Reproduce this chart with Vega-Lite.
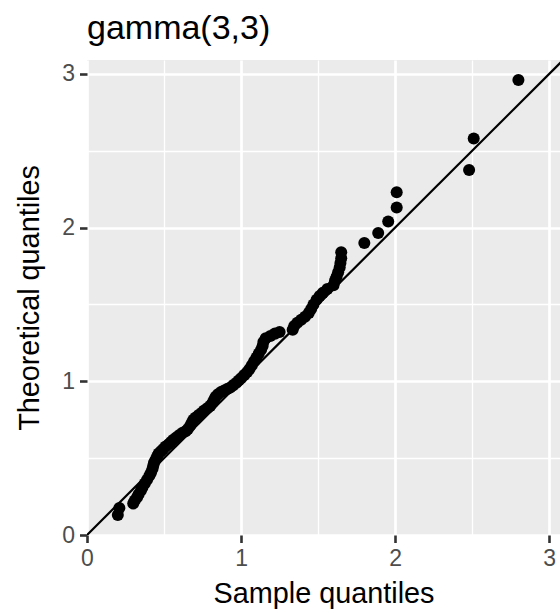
{
  "$schema": "https://vega.github.io/schema/vega-lite/v6.json",
  "width": 473,
  "height": 475,
  "autosize": {"type": "none"},
  "padding": {"left": 87, "top": 60, "right": 0, "bottom": 78},
  "background": "white",
  "config": {
    "view": {"fill": "#EBEBEB", "stroke": null},
    "font": "Liberation Sans"
  },
  "title": {
    "text": "gamma(3,3)",
    "anchor": "start",
    "frame": "group",
    "offset": 14,
    "fontSize": 34,
    "fontWeight": "normal",
    "font": "Liberation Sans",
    "color": "#000000"
  },
  "datasets": {
    "pts": [
      {"sample": 2.80, "theoretical": 2.96}, {"sample": 2.51, "theoretical": 2.58}, {"sample": 2.48, "theoretical": 2.375},
      {"sample": 2.01, "theoretical": 2.23}, {"sample": 2.01, "theoretical": 2.13}, {"sample": 1.955, "theoretical": 2.04},
      {"sample": 1.89, "theoretical": 1.965}, {"sample": 1.80, "theoretical": 1.90}, {"sample": 1.65, "theoretical": 1.84},
      {"sample": 1.65, "theoretical": 1.80}, {"sample": 1.645, "theoretical": 1.77}, {"sample": 1.64, "theoretical": 1.74},
      {"sample": 1.63, "theoretical": 1.71}, {"sample": 1.62, "theoretical": 1.68}, {"sample": 1.61, "theoretical": 1.655},
      {"sample": 1.60, "theoretical": 1.625}, {"sample": 1.56, "theoretical": 1.60}, {"sample": 1.53, "theoretical": 1.575},
      {"sample": 1.51, "theoretical": 1.555}, {"sample": 1.49, "theoretical": 1.53}, {"sample": 1.47, "theoretical": 1.50},
      {"sample": 1.455, "theoretical": 1.47}, {"sample": 1.44, "theoretical": 1.445}, {"sample": 1.415, "theoretical": 1.42},
      {"sample": 1.39, "theoretical": 1.40}, {"sample": 1.365, "theoretical": 1.38}, {"sample": 1.345, "theoretical": 1.36},
      {"sample": 1.335, "theoretical": 1.335}, {"sample": 1.25, "theoretical": 1.32}, {"sample": 1.22, "theoretical": 1.31},
      {"sample": 1.19, "theoretical": 1.295}, {"sample": 1.16, "theoretical": 1.28}, {"sample": 1.145, "theoretical": 1.255},
      {"sample": 1.14, "theoretical": 1.23}, {"sample": 1.13, "theoretical": 1.205}, {"sample": 1.115, "theoretical": 1.18},
      {"sample": 1.10, "theoretical": 1.155}, {"sample": 1.085, "theoretical": 1.13}, {"sample": 1.07, "theoretical": 1.105},
      {"sample": 1.055, "theoretical": 1.08}, {"sample": 1.04, "theoretical": 1.06}, {"sample": 1.02, "theoretical": 1.04},
      {"sample": 1.00, "theoretical": 1.02}, {"sample": 0.985, "theoretical": 1.005}, {"sample": 0.97, "theoretical": 0.99},
      {"sample": 0.95, "theoretical": 0.975}, {"sample": 0.93, "theoretical": 0.96}, {"sample": 0.91, "theoretical": 0.95},
      {"sample": 0.89, "theoretical": 0.94}, {"sample": 0.87, "theoretical": 0.93}, {"sample": 0.85, "theoretical": 0.915},
      {"sample": 0.835, "theoretical": 0.90}, {"sample": 0.825, "theoretical": 0.88}, {"sample": 0.815, "theoretical": 0.86},
      {"sample": 0.80, "theoretical": 0.84}, {"sample": 0.78, "theoretical": 0.825}, {"sample": 0.76, "theoretical": 0.81},
      {"sample": 0.745, "theoretical": 0.795}, {"sample": 0.725, "theoretical": 0.78}, {"sample": 0.705, "theoretical": 0.765},
      {"sample": 0.69, "theoretical": 0.75}, {"sample": 0.68, "theoretical": 0.73}, {"sample": 0.67, "theoretical": 0.71},
      {"sample": 0.655, "theoretical": 0.69}, {"sample": 0.64, "theoretical": 0.675}, {"sample": 0.62, "theoretical": 0.665},
      {"sample": 0.60, "theoretical": 0.65}, {"sample": 0.58, "theoretical": 0.635}, {"sample": 0.56, "theoretical": 0.62},
      {"sample": 0.545, "theoretical": 0.605}, {"sample": 0.53, "theoretical": 0.59}, {"sample": 0.51, "theoretical": 0.575},
      {"sample": 0.495, "theoretical": 0.56}, {"sample": 0.48, "theoretical": 0.545}, {"sample": 0.465, "theoretical": 0.53},
      {"sample": 0.455, "theoretical": 0.51}, {"sample": 0.445, "theoretical": 0.49}, {"sample": 0.435, "theoretical": 0.47},
      {"sample": 0.43, "theoretical": 0.45}, {"sample": 0.425, "theoretical": 0.43}, {"sample": 0.415, "theoretical": 0.405},
      {"sample": 0.405, "theoretical": 0.385}, {"sample": 0.39, "theoretical": 0.36}, {"sample": 0.375, "theoretical": 0.335},
      {"sample": 0.36, "theoretical": 0.31}, {"sample": 0.35, "theoretical": 0.29}, {"sample": 0.335, "theoretical": 0.265},
      {"sample": 0.325, "theoretical": 0.245}, {"sample": 0.31, "theoretical": 0.225}, {"sample": 0.30, "theoretical": 0.205},
      {"sample": 0.21, "theoretical": 0.175}, {"sample": 0.20, "theoretical": 0.13}
    ],
    "refline": [
      {"sample": 0, "theoretical": 0},
      {"sample": 3.3, "theoretical": 3.3}
    ]
  },
  "layer": [
    {
      "data": {"name": "pts"},
      "mark": {"type": "point", "opacity": 0},
      "encoding": {
        "x": {
          "field": "sample", "type": "quantitative",
          "scale": {"domain": [0, 3.07], "nice": false, "zero": false},
          "axis": {
            "orient": "bottom", "values": [0.5, 1.5, 2.5], "grid": true, "gridColor": "white", "gridWidth": 1.3,
            "domain": false, "ticks": false, "labels": false, "title": null
          }
        },
        "y": {
          "field": "theoretical", "type": "quantitative",
          "scale": {"domain": [0, 3.09], "nice": false, "zero": false},
          "axis": {
            "orient": "left", "values": [0.5, 1.5, 2.5], "grid": true, "gridColor": "white", "gridWidth": 1.3,
            "domain": false, "ticks": false, "labels": false, "title": null
          }
        }
      }
    },
    {
      "data": {"name": "refline"},
      "mark": {"type": "line", "color": "#000000", "strokeWidth": 2.2, "clip": true},
      "encoding": {
        "x": {
          "field": "sample", "type": "quantitative",
          "axis": {
            "orient": "bottom", "values": [0, 1, 2, 3], "format": "d", "grid": true, "gridColor": "white", "gridWidth": 2.7,
            "domain": false, "ticks": true, "tickColor": "#333333", "tickWidth": 2.6, "tickSize": 7.5,
            "labelFont": "Liberation Sans", "labelFontSize": 23, "labelColor": "#4D4D4D", "labelPadding": 5,
            "labelFlush": false, "labelOverlap": false, "labelBound": false,
            "title": "Sample quantiles", "titleFont": "Liberation Sans", "titleFontSize": 28.8, "titleFontWeight": "normal",
            "titleColor": "#000000", "titleBaseline": "alphabetic", "titleX": 236.5, "titleY": 67
          }
        },
        "y": {
          "field": "theoretical", "type": "quantitative",
          "axis": {
            "orient": "left", "values": [0, 1, 2, 3], "format": "d", "grid": true, "gridColor": "white", "gridWidth": 2.7,
            "domain": false, "ticks": true, "tickColor": "#333333", "tickWidth": 2.6, "tickSize": 7.5,
            "labelFont": "Liberation Sans", "labelFontSize": 23, "labelColor": "#4D4D4D", "labelPadding": 5,
            "labelFlush": false, "labelOverlap": false, "labelBound": false,
            "title": "Theoretical quantiles", "titleFont": "Liberation Sans", "titleFontSize": 28.8, "titleFontWeight": "normal",
            "titleColor": "#000000", "titleBaseline": "alphabetic", "titleX": -49, "titleY": 237.5, "titleAngle": -90
          }
        }
      }
    },
    {
      "data": {"name": "pts"},
      "mark": {"type": "circle", "color": "#000000", "opacity": 1, "size": 145},
      "encoding": {
        "x": {"field": "sample", "type": "quantitative", "axis": null},
        "y": {"field": "theoretical", "type": "quantitative", "axis": null}
      }
    }
  ],
  "resolve": {"axis": {"x": "independent", "y": "independent"}}
}
